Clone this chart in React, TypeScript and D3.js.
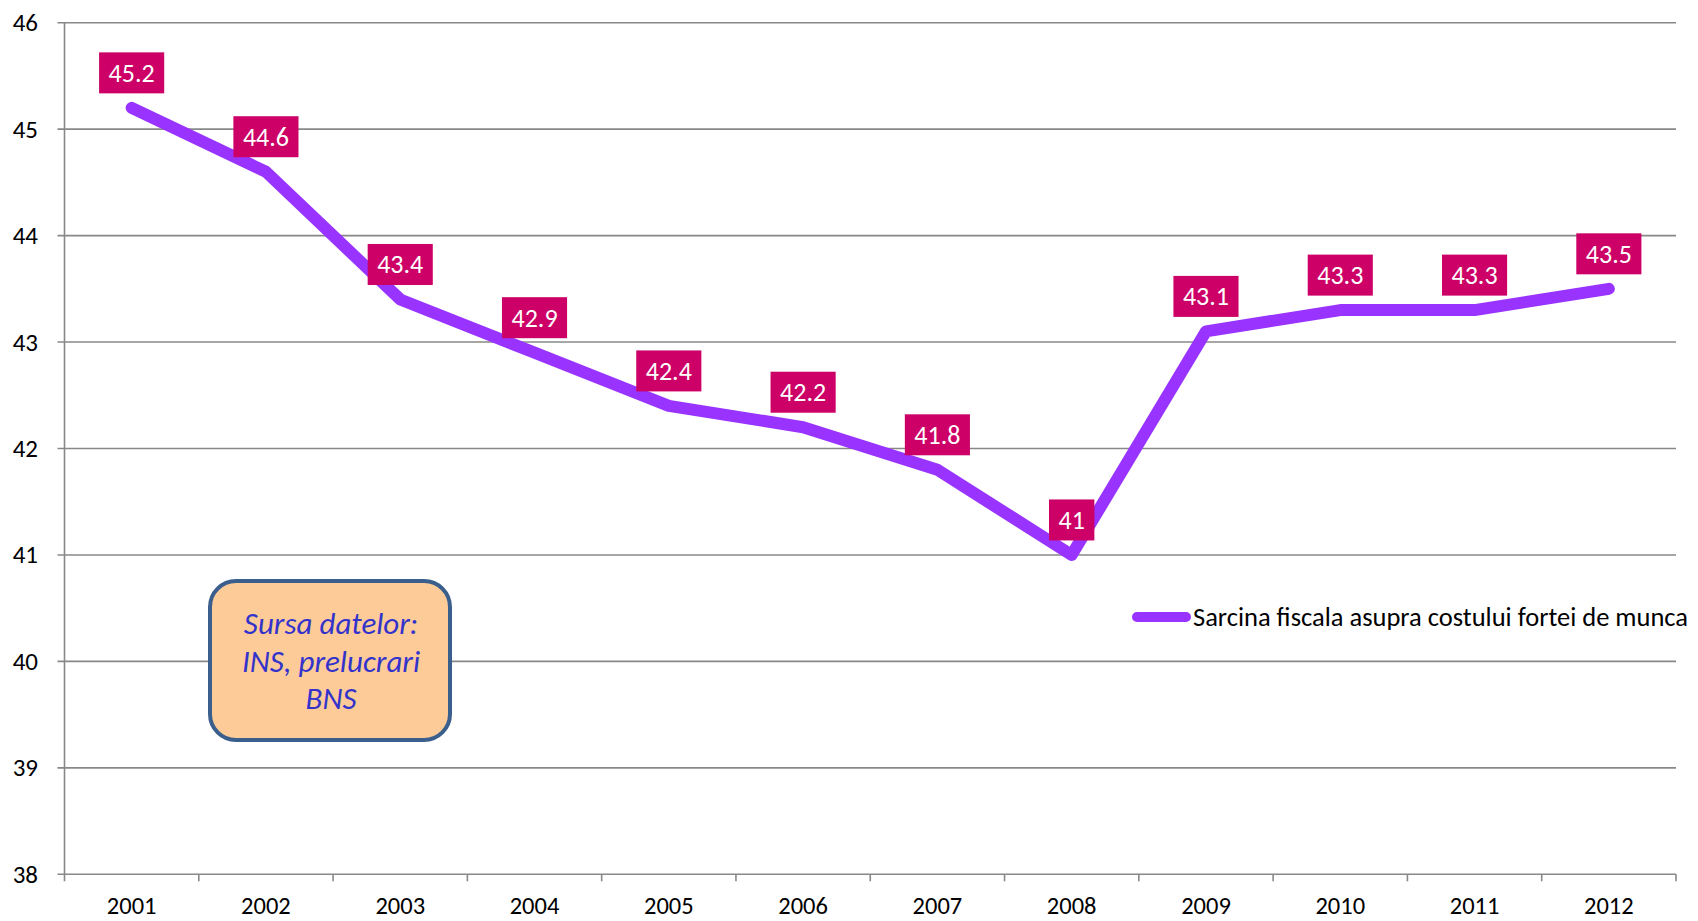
import { useEffect, useRef } from 'react';
import * as d3 from 'd3';

const years = ['2001', '2002', '2003', '2004', '2005', '2006', '2007', '2008', '2009', '2010', '2011', '2012'];
const burden = [45.2, 44.6, 43.4, 42.9, 42.4, 42.2, 41.8, 41, 43.1, 43.3, 43.3, 43.5];
const yTicks = [38, 39, 40, 41, 42, 43, 44, 45, 46];
const seriesName = 'Sarcina fiscala asupra costului fortei de munca';
const sourceLines = ['Sursa datelor:', 'INS, prelucrari', 'BNS'];

const FONT = 'Carlito, Calibri, "Open Sans", sans-serif';

export default function App() {
  const svgRef = useRef<SVGSVGElement>(null);
  const width = 1698;
  const height = 921;

  useEffect(() => {
    if (!svgRef.current) return;
    const svg = d3.select(svgRef.current);
    svg.selectAll('*').remove();

    const left = 64.5, right = 1676, top = 22.7, bottom = 874.3;

    const x = d3.scaleBand().domain(years).range([left, right]);
    const y = d3.scaleLinear().domain([38, 46]).range([bottom, top]);

    // gridlines
    svg.append('g')
      .selectAll('line')
      .data(yTicks)
      .enter()
      .append('line')
      .attr('x1', left - 7)
      .attr('x2', right)
      .attr('y1', d => y(d))
      .attr('y2', d => y(d))
      .attr('stroke', '#888888')
      .attr('stroke-width', 1.6);

    // y axis line
    svg.append('line')
      .attr('x1', left).attr('x2', left)
      .attr('y1', top).attr('y2', bottom + 7)
      .attr('stroke', '#888888').attr('stroke-width', 1.6);

    // x ticks
    const xEdges = years.map(d => (x(d) || 0) + x.bandwidth());
    svg.append('g')
      .selectAll('line')
      .data(xEdges)
      .enter()
      .append('line')
      .attr('x1', d => d).attr('x2', d => d)
      .attr('y1', bottom).attr('y2', bottom + 7)
      .attr('stroke', '#888888').attr('stroke-width', 1.6);

    // y labels
    svg.append('g')
      .selectAll('text')
      .data(yTicks)
      .enter()
      .append('text')
      .attr('x', 38)
      .attr('y', d => y(d))
      .attr('dy', '0.34em')
      .attr('text-anchor', 'end')
      .style('font-family', FONT)
      .style('font-size', '25px')
      .attr('fill', '#000')
      .text(d => d);

    // x labels
    svg.append('g')
      .selectAll('text')
      .data(years)
      .enter()
      .append('text')
      .attr('x', d => (x(d) || 0) + x.bandwidth() / 2)
      .attr('y', 914)
      .attr('text-anchor', 'middle')
      .style('font-family', FONT)
      .style('font-size', '24.5px')
      .attr('fill', '#000')
      .text(d => d);

    // line
    const line = d3.line<number>()
      .x((_, i) => (x(years[i]) || 0) + x.bandwidth() / 2)
      .y(d => y(d));

    svg.append('path')
      .datum(burden)
      .attr('d', line)
      .attr('fill', 'none')
      .attr('stroke', '#9933FF')
      .attr('stroke-width', 12)
      .attr('stroke-linecap', 'round')
      .attr('stroke-linejoin', 'round');

    // data labels
    const labels = svg.append('g')
      .selectAll('g')
      .data(burden)
      .enter()
      .append('g')
      .attr('transform', (d, i) => `translate(${(x(years[i]) || 0) + x.bandwidth() / 2},${y(d) - 35})`);

    labels.append('rect').attr('fill', '#CC0066');
    labels.append('text')
      .attr('text-anchor', 'middle')
      .attr('dy', '0.34em')
      .style('font-family', FONT)
      .style('font-size', '26px')
      .attr('fill', '#fff')
      .text(d => String(d));

    labels.each(function () {
      const g = d3.select(this);
      const t = g.select<SVGTextElement>('text').node();
      const w = (t ? t.getComputedTextLength() : 40) + 19;
      g.select('rect')
        .attr('x', -w / 2)
        .attr('y', -20.5)
        .attr('width', w)
        .attr('height', 41);
    });

    // legend
    svg.append('line')
      .attr('x1', 1137).attr('x2', 1186)
      .attr('y1', 617).attr('y2', 617)
      .attr('stroke', '#9933FF')
      .attr('stroke-width', 10)
      .attr('stroke-linecap', 'round');
    svg.append('text')
      .attr('x', 1193)
      .attr('y', 617)
      .attr('dy', '0.34em')
      .style('font-family', FONT)
      .style('font-size', '26.5px')
      .attr('fill', '#000')
      .text(seriesName);

    // source box
    svg.append('rect')
      .attr('x', 210).attr('y', 581)
      .attr('width', 240).attr('height', 159)
      .attr('rx', 26)
      .attr('fill', '#FDCB98')
      .attr('stroke', '#3B5F8D')
      .attr('stroke-width', 4);

    svg.append('g')
      .selectAll('text')
      .data(sourceLines)
      .enter()
      .append('text')
      .attr('x', 331)
      .attr('y', (_, i) => 634 + i * 37.5)
      .attr('text-anchor', 'middle')
      .style('font-family', FONT)
      .style('font-size', '31px')
      .style('font-style', 'italic')
      .attr('fill', '#3333CC')
      .text(d => d);
  }, []);

  return (
    <svg
      ref={svgRef}
      width={width}
      height={height}
      style={{ position: 'absolute', left: 0, top: 0, background: '#fff' }}
    />
  );
}
